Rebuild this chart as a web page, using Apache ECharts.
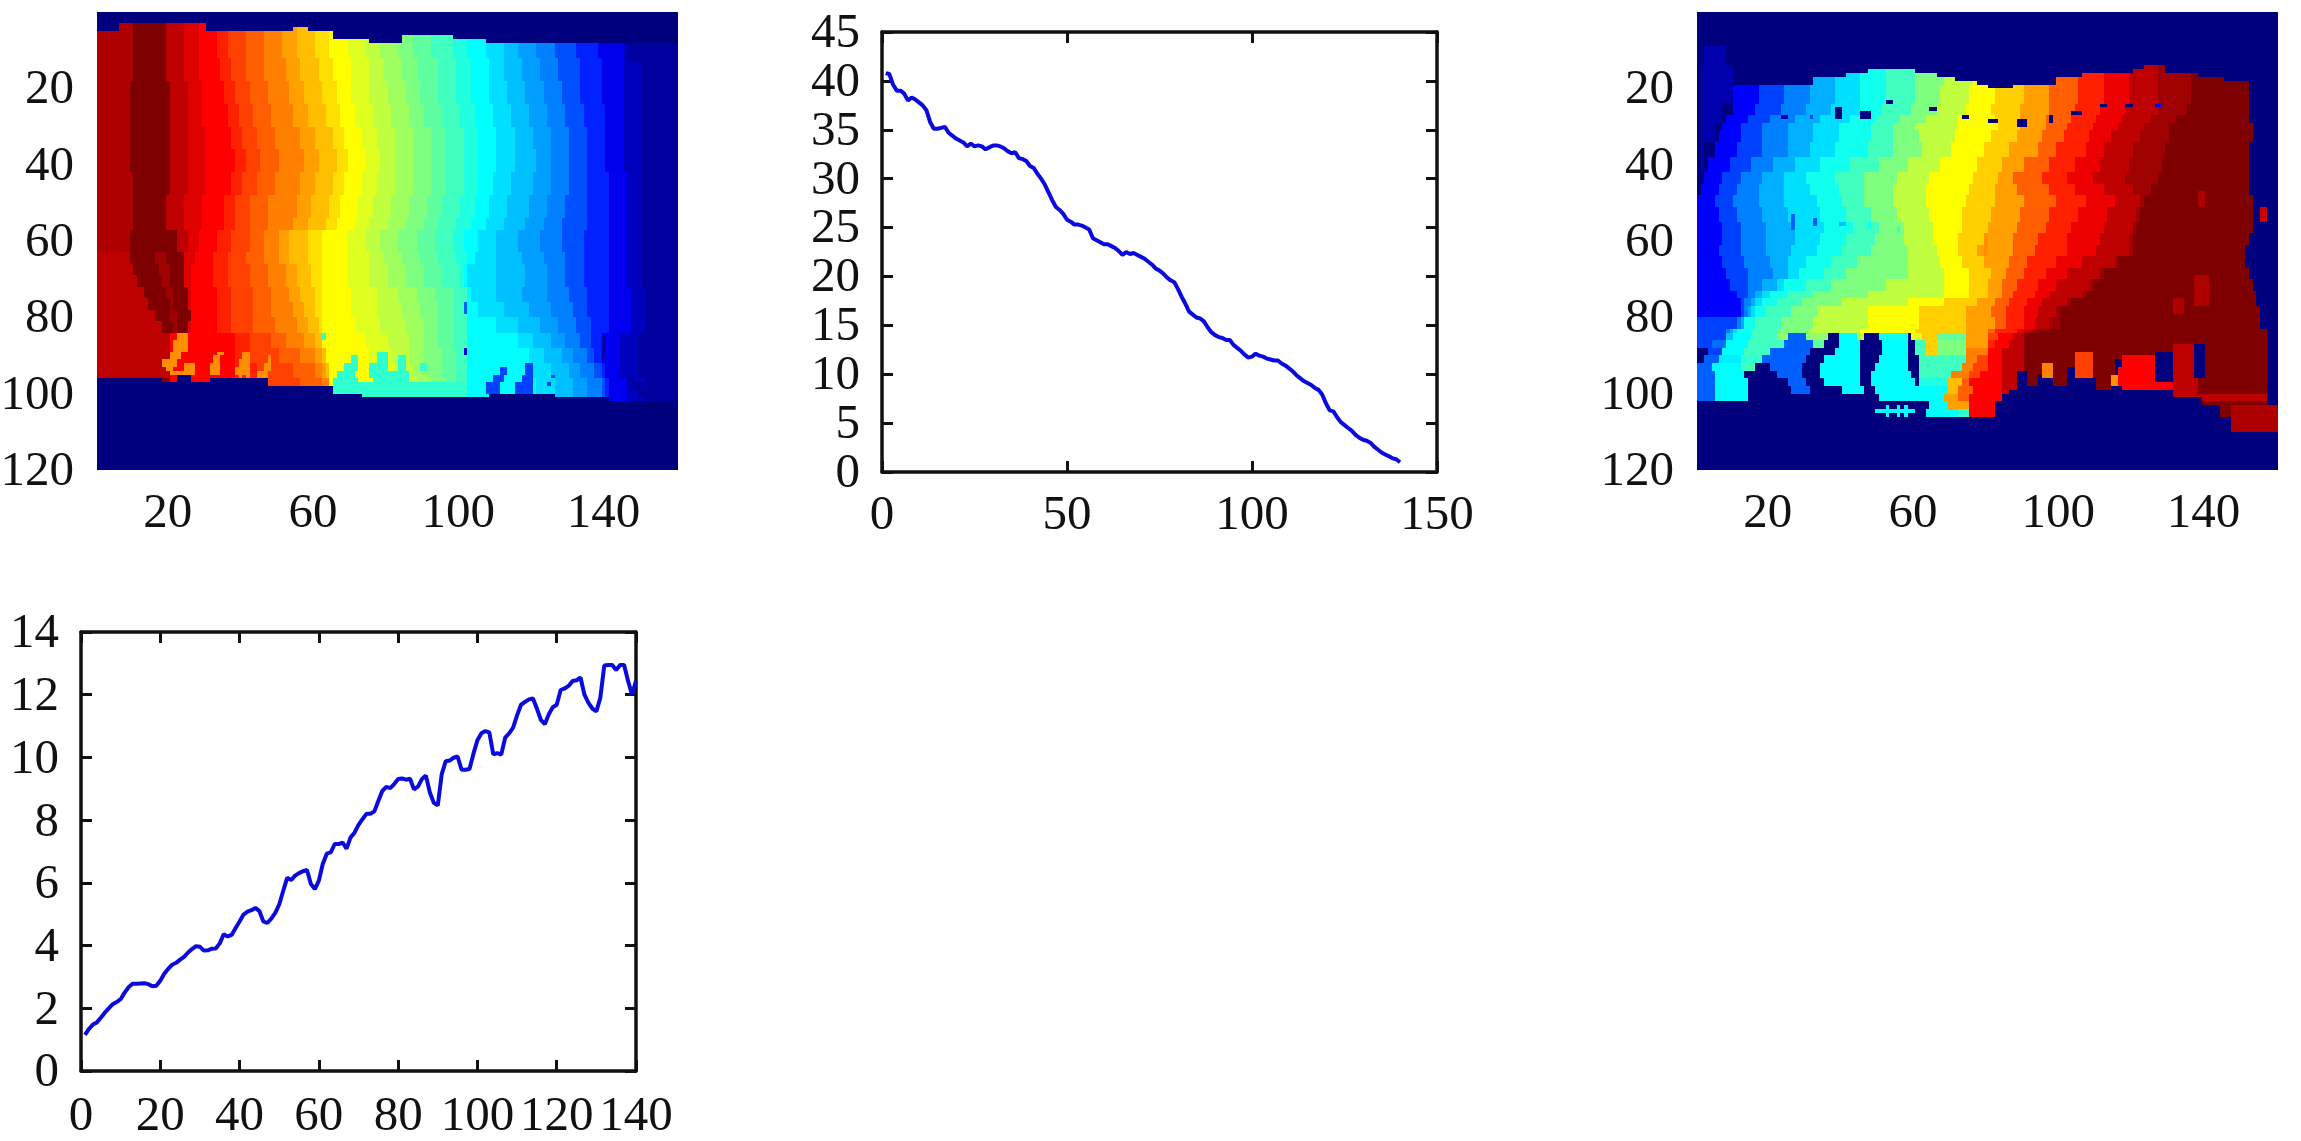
<!DOCTYPE html>
<html>
<head>
<meta charset="utf-8">
<title>Depth maps and profiles</title>
<script src="https://cdn.jsdelivr.net/npm/echarts@6/dist/echarts.min.js"></script>
<style>
    html, body { margin: 0; background: #fff; }
    #chart { width: 2301px; height: 1141px; }
</style>
</head>
<body>
<div id="chart"></div>
<script>
// 曲线数据 (x = 1..140)
const fallingValues = [
    40.8, 40.7, 39.6, 39.0, 39.0, 38.7, 38.0, 38.3, 38.1, 37.8, 37.5, 37.0, 35.8, 35.1, 35.1, 35.2, 35.3, 34.7, 34.4, 34.1,
    33.9, 33.7, 33.3, 33.6, 33.3, 33.4, 33.3, 33.0, 33.2, 33.4, 33.4, 33.3, 33.1, 32.8, 32.6, 32.7, 32.1, 32.0, 31.8, 31.3,
    31.1, 30.5, 30.0, 29.4, 28.6, 27.8, 27.1, 26.8, 26.4, 25.8, 25.6, 25.3, 25.3, 25.2, 25.0, 24.8, 23.9, 23.7, 23.5, 23.3,
    23.3, 23.1, 22.9, 22.6, 22.2, 22.5, 22.3, 22.4, 22.2, 22.0, 21.8, 21.5, 21.2, 20.8, 20.6, 20.3, 19.9, 19.6, 19.4, 18.7,
    17.9, 17.2, 16.4, 16.1, 15.8, 15.7, 15.4, 14.8, 14.3, 14.0, 13.8, 13.7, 13.5, 13.5, 13.0, 12.7, 12.4, 12.0, 11.7, 11.8,
    12.1, 11.9, 11.8, 11.6, 11.5, 11.4, 11.4, 11.1, 10.9, 10.6, 10.3, 9.9, 9.6, 9.3, 9.1, 8.9, 8.6, 8.4, 7.9, 7.0,
    6.3, 6.2, 5.6, 5.1, 4.8, 4.5, 4.2, 3.8, 3.5, 3.3, 3.2, 3.0, 2.6, 2.3, 2.0, 1.8, 1.6, 1.4, 1.3, 1.0
];
const risingValues = [
    1.15, 1.34, 1.48, 1.55, 1.7, 1.86, 2.0, 2.13, 2.2, 2.29, 2.5, 2.67, 2.78, 2.78, 2.79, 2.8, 2.77, 2.7, 2.72, 2.88,
    3.1, 3.26, 3.39, 3.45, 3.55, 3.64, 3.78, 3.89, 3.98, 3.96, 3.84, 3.85, 3.9, 3.91, 4.07, 4.36, 4.29, 4.34, 4.56, 4.77,
    4.99, 5.08, 5.13, 5.2, 5.1, 4.77, 4.72, 4.86, 5.04, 5.31, 5.74, 6.16, 6.09, 6.23, 6.31, 6.37, 6.41, 5.96, 5.8, 6.07,
    6.61, 6.93, 6.97, 7.24, 7.24, 7.28, 7.09, 7.45, 7.6, 7.85, 8.03, 8.2, 8.2, 8.28, 8.61, 8.93, 9.06, 9.02, 9.15, 9.31,
    9.33, 9.29, 9.32, 8.98, 9.07, 9.31, 9.42, 8.88, 8.55, 8.47, 9.47, 9.88, 9.9, 9.99, 10.03, 9.61, 9.61, 9.63, 10.12, 10.55,
    10.77, 10.84, 10.8, 10.1, 10.14, 10.09, 10.63, 10.77, 10.95, 11.34, 11.68, 11.77, 11.85, 11.88, 11.56, 11.2, 11.06, 11.38, 11.6, 11.68,
    12.15, 12.2, 12.28, 12.44, 12.46, 12.55, 12.0, 11.74, 11.56, 11.47, 11.9, 12.93, 12.95, 12.95, 12.79, 12.95, 12.95, 12.44, 12.0, 12.44
];

// 左图: 每行的色带边界 [起始行, 左, e1..e29, 右], 值取自 heat1Levels
const heat1Levels = [61, 64, 60, 58, 56, 54, 52, 50, 48, 46, 44, 42, 40, 38, 36, 34, 32, 30, 28, 26, 24, 22, 20, 18, 16, 13, 10, 7, 4, 2];
const heat1Bands = [
    [0, 0, 10, 19, 24, 28, 33, 36, 41, 46, 51, 55, 60, 64, 69, 74, 78, 83, 87, 92, 98, 102, 107, 112, 116, 121, 126, 132, 138, 145, 150, 160],
    [12, 0, 10, 19, 24, 28, 34, 37, 41, 46, 52, 56, 61, 65, 70, 75, 79, 84, 88, 94, 99, 103, 108, 112, 117, 122, 127, 133, 139, 145, 150, 160],
    [18, 0, 9, 20, 25, 29, 35, 38, 42, 47, 53, 57, 62, 66, 70, 75, 80, 85, 89, 94, 99, 103, 108, 113, 118, 123, 128, 133, 139, 145, 150, 160],
    [24, 0, 9, 20, 25, 29, 36, 39, 43, 48, 54, 58, 63, 67, 71, 76, 81, 86, 90, 95, 100, 104, 109, 114, 119, 124, 129, 134, 140, 145, 150, 160],
    [30, 0, 9, 20, 25, 30, 37, 40, 44, 49, 56, 60, 65, 68, 73, 77, 82, 87, 92, 96, 101, 105, 110, 115, 120, 125, 130, 135, 140, 145, 150, 160],
    [36, 0, 9, 20, 25, 30, 38, 41, 45, 50, 57, 61, 66, 69, 74, 78, 82, 87, 92, 96, 101, 105, 110, 115, 121, 125, 130, 135, 140, 145, 150, 160],
    [42, 0, 10, 20, 25, 30, 37, 40, 44, 49, 56, 60, 65, 68, 73, 77, 82, 87, 92, 96, 101, 105, 109, 114, 120, 125, 130, 135, 141, 146, 150, 160],
    [48, 0, 10, 19, 24, 29, 35, 38, 42, 47, 55, 59, 64, 67, 72, 76, 81, 86, 91, 95, 100, 104, 108, 113, 119, 124, 129, 135, 141, 146, 150, 160],
    [54, 0, 10, 19, 24, 29, 35, 38, 42, 47, 54, 58, 63, 66, 71, 75, 80, 85, 90, 94, 99, 103, 107, 112, 118, 123, 128, 135, 141, 146, 150, 160],
    [57, 0, 9, 22, 25, 28, 33, 37, 42, 46, 50, 53, 58, 62, 69, 74, 78, 83, 88, 93, 98, 101, 105, 110, 116, 122, 128, 134, 141, 146, 150, 160],
    [63, 0, 6, 20, 24, 27, 32, 36, 41, 46, 50, 53, 58, 62, 69, 75, 79, 84, 89, 94, 99, 102, 104, 110, 117, 123, 129, 134, 141, 146, 150, 160],
    [66, 0, 6, 20, 23, 26, 32, 36, 42, 47, 52, 55, 59, 62, 69, 75, 80, 85, 90, 95, 100, 101, 102, 110, 118, 124, 129, 134, 141, 146, 150, 160],
    [72, 0, 6, 20, 23, 26, 33, 37, 43, 48, 53, 56, 60, 62, 70, 77, 83, 88, 93, 98, 102, 102, 103, 110, 117, 124, 130, 135, 141, 147, 151, 160],
    [76, 0, 6, 20, 23, 26, 33, 37, 43, 48, 54, 57, 60, 62, 70, 77, 84, 89, 94, 98, 102, 102, 105, 112, 119, 125, 131, 135, 141, 147, 151, 160],
    [80, 0, 6, 20, 23, 26, 33, 37, 43, 49, 55, 58, 61, 62, 71, 78, 85, 90, 94, 98, 102, 102, 110, 116, 122, 127, 132, 136, 141, 147, 151, 160],
    [84, 0, 6, 20, 20, 20, 38, 42, 48, 52, 57, 60, 62, 62, 74, 80, 86, 90, 94, 98, 102, 102, 116, 120, 125, 129, 133, 136, 139, 144, 149, 160],
    [88, 0, 6, 20, 20, 20, 38, 42, 50, 56, 60, 62, 63, 63, 75, 81, 86, 90, 95, 99, 102, 102, 119, 123, 128, 131, 135, 137, 139, 144, 149, 160],
    [92, 0, 6, 20, 20, 20, 38, 44, 54, 60, 62, 63, 64, 64, 76, 82, 87, 91, 95, 99, 102, 102, 120, 125, 130, 133, 137, 139, 140, 144, 149, 160],
    [96, 0, 6, 20, 20, 20, 38, 46, 56, 62, 64, 64, 64, 64, 78, 83, 88, 92, 96, 99, 102, 102, 121, 126, 131, 135, 139, 140, 141, 146, 151, 160]
];
// [起始列, 结束列, 行]
const heat1Top = [[0, 6, 5], [6, 30, 3], [30, 54, 5], [54, 58, 4], [58, 65, 5], [65, 75, 7], [75, 84, 8], [84, 98, 6], [98, 107, 7], [107, 160, 8]];
const heat1Bottom = [
    [0, 18, 96], [18, 22, 97], [22, 26, 95], [26, 31, 97], [31, 47, 96], [47, 65, 98], [65, 73, 100], [73, 108, 101],
    [108, 126, 100], [126, 141, 101], [141, 160, 102]
];
// [起始行, 结束行, 起始列, 结束列, 值]
const heat1Patches = [
    [8, 13, 146, 160, 2],
    [63, 66, 0, 9, 60], [63, 66, 9, 16, 64], [63, 66, 16, 19, 62], [63, 66, 19, 24, 64],
    [66, 69, 0, 10, 60], [66, 69, 10, 17, 64], [66, 69, 17, 20, 62], [66, 69, 20, 24, 64],
    [69, 72, 0, 11, 60], [69, 72, 11, 18, 64], [69, 72, 18, 20, 62], [69, 72, 20, 24, 64],
    [72, 75, 0, 13, 60], [72, 75, 13, 19, 64], [72, 75, 19, 21, 62], [72, 75, 21, 25, 64],
    [75, 78, 0, 14, 60], [75, 78, 14, 20, 64], [75, 78, 20, 21, 62], [75, 78, 21, 25, 64],
    [78, 81, 0, 16, 60], [78, 81, 16, 20, 64], [78, 81, 20, 22, 62], [78, 81, 22, 26, 64],
    [81, 84, 0, 18, 60], [81, 84, 18, 21, 64], [81, 84, 21, 22, 62], [81, 84, 22, 25, 64],
    [84, 96, 0, 20, 60],
    [84, 86, 22, 25, 47], [86, 89, 21, 25, 47], [89, 91, 20, 23, 47], [91, 93, 18, 22, 47], [93, 94, 19, 21, 47],
    [92, 95, 24, 27, 47], [94, 95, 20, 27, 47],
    [89, 90, 33, 35, 47], [90, 92, 32, 34, 47], [92, 95, 31, 34, 47],
    [89, 91, 40, 42, 47], [91, 93, 39, 42, 47], [93, 95, 38, 42, 47], [95, 96, 39, 40, 47], [95, 96, 41, 42, 47],
    [90, 92, 47, 48, 47], [92, 94, 46, 48, 47], [94, 96, 44, 47, 47],
    [97, 100, 65, 73, 27], [97, 101, 73, 80, 27], [96, 97, 65, 72, 27], [96, 97, 76, 80, 27], [94, 96, 66, 71, 27], [92, 94, 68, 72, 27], [90, 92, 70, 72, 27],
    [89, 92, 77, 80, 27], [92, 96, 75, 80, 27], [94, 97, 80, 86, 27], [90, 94, 83, 85, 27],
    [97, 101, 80, 102, 27], [92, 94, 89, 91, 27],
    [93, 95, 111, 113, 12], [95, 97, 109, 112, 12], [97, 100, 107, 111, 12],
    [92, 95, 118, 120, 12], [95, 97, 117, 120, 12], [97, 100, 115, 120, 12],
    [95, 96, 125, 126, 12], [97, 98, 124, 125, 12], [76, 79, 101, 102, 14], [88, 90, 101, 102, 6], [85, 91, 139, 140, 3],
    [84, 86, 62, 63, 27],
    [95, 97, 146, 148, 2], [97, 99, 147, 150, 2], [99, 101, 149, 152, 2],
    [93, 95, 153, 155, 2], [95, 98, 151, 153, 2], [98, 100, 150, 152, 2]
];

// 右图: [起始行, 左, e1..e17, 右]
const heat2Levels = [8, 12, 16, 19, 22, 25, 28, 32, 36, 40, 43, 46, 50, 54, 57, 60, 62, 64];
const heat2Bands = [
    [14, 10, 17, 25, 32, 38, 45, 52, 60, 68, 76, 82, 90, 97, 105, 112, 119, 127, 136, 152],
    [19, 10, 17, 24, 31, 38, 45, 52, 60, 67, 75, 82, 90, 97, 105, 112, 119, 127, 136, 152],
    [24, 10, 16, 23, 30, 37, 45, 51, 59, 66, 74, 81, 89, 97, 104, 111, 118, 127, 135, 152],
    [27, 8, 14, 20, 27, 34, 42, 49, 56, 63, 72, 82, 89, 96, 103, 110, 117, 125, 132, 152],
    [29, 7, 12, 18, 25, 32, 39, 48, 54, 60, 72, 83, 89, 96, 102, 109, 116, 123, 130, 153],
    [31, 6, 12, 18, 25, 32, 39, 48, 54, 61, 71, 81, 88, 95, 101, 108, 114, 122, 130, 153],
    [34, 5, 11, 18, 25, 31, 38, 47, 54, 62, 70, 79, 86, 94, 99, 107, 112, 120, 129, 152],
    [38, 3, 9, 15, 21, 27, 34, 42, 50, 58, 67, 77, 84, 90, 97, 104, 111, 119, 128, 152],
    [42, 2, 7, 12, 18, 24, 30, 38, 46, 55, 64, 76, 83, 87, 95, 102, 109, 118, 127, 152],
    [45, 1, 6, 11, 17, 24, 31, 39, 46, 54, 63, 75, 82, 88, 97, 104, 112, 120, 125, 152],
    [48, 0, 5, 10, 17, 24, 33, 40, 46, 54, 63, 74, 82, 90, 99, 107, 115, 122, 123, 153],
    [51, 0, 6, 11, 18, 25, 34, 41, 48, 55, 64, 73, 81, 89, 97, 105, 113, 121, 122, 153],
    [55, 0, 7, 12, 19, 27, 35, 43, 50, 57, 65, 73, 80, 88, 96, 103, 112, 120, 121, 153],
    [58, 0, 7, 12, 19, 27, 34, 41, 49, 57, 65, 72, 79, 87, 94, 102, 111, 119, 120, 152],
    [61, 0, 6, 12, 19, 26, 33, 40, 48, 58, 66, 72, 77, 87, 93, 102, 110, 119, 120, 151],
    [64, 0, 7, 13, 20, 25, 30, 37, 44, 58, 67, 73, 79, 86, 91, 99, 106, 115, 116, 151],
    [67, 0, 8, 14, 21, 25, 28, 35, 41, 58, 68, 75, 81, 85, 90, 96, 102, 111, 112, 152],
    [70, 0, 9, 14, 18, 22, 24, 30, 37, 52, 68, 75, 80, 84, 88, 94, 99, 108, 109, 153],
    [73, 0, 11, 14, 16, 18, 20, 25, 32, 47, 68, 75, 80, 84, 87, 93, 97, 106, 107, 154],
    [75, 0, 12, 13, 15, 16, 18, 22, 29, 40, 58, 68, 77, 82, 86, 91, 95, 102, 103, 154],
    [77, 0, 12, 13, 14, 15, 16, 19, 26, 33, 47, 61, 74, 81, 85, 90, 94, 99, 100, 155],
    [80, 0, 0, 11, 12, 13, 13, 16, 23, 32, 47, 61, 74, 82, 85, 90, 93, 97, 100, 155],
    [83, 0, 0, 8, 9, 10, 11, 15, 22, 31, 45, 60, 74, 80, 82, 88, 90, 92, 94, 157]
];
// 下部火焰区: [起始行, 结束行, 列, 值, 列, 值, ..., 结束列]
const heat2Runs = [
    [84, 86, 0, 12, 8, 20, 10, 24, 15, 28, 22, 33, 25, 14, 30, 33, 36, 0, 39, 24, 44, 36, 46, 0, 50, 25, 58, 0, 59, 38, 62, 43, 66, 30, 74, 46, 80, 52, 83, 56, 87, 60, 90, 64, 157],
    [86, 88, 0, 12, 4, 15, 8, 24, 14, 28, 24, 14, 32, 30, 35, 0, 39, 24, 45, 0, 51, 24, 58, 0, 60, 28, 63, 43, 66, 32, 74, 46, 80, 54, 82, 56, 86, 60, 90, 64, 157],
    [88, 90, 0, 0, 3, 12, 7, 24, 13, 28, 20, 14, 31, 0, 38, 24, 45, 0, 51, 24, 58, 0, 60, 28, 63, 43, 66, 32, 74, 48, 80, 56, 84, 60, 90, 64, 157],
    [90, 92, 0, 0, 2, 14, 6, 23, 12, 27, 18, 14, 30, 0, 35, 24, 45, 0, 50, 24, 58, 0, 61, 28, 74, 48, 77, 52, 80, 56, 84, 60, 90, 64, 157],
    [92, 94, 0, 14, 4, 24, 12, 28, 16, 0, 20, 14, 29, 0, 34, 24, 45, 0, 49, 24, 58, 0, 61, 28, 73, 48, 76, 52, 80, 56, 84, 60, 90, 64, 157],
    [94, 96, 0, 14, 5, 24, 13, 0, 22, 14, 29, 0, 34, 24, 45, 0, 48, 24, 59, 0, 61, 28, 70, 48, 75, 52, 78, 56, 84, 60, 90, 64, 157],
    [96, 98, 0, 14, 5, 24, 14, 0, 25, 14, 30, 0, 35, 24, 45, 0, 48, 24, 60, 0, 61, 26, 69, 44, 73, 50, 75, 56, 84, 60, 90, 64, 157],
    [98, 100, 0, 14, 5, 24, 14, 0, 26, 14, 31, 0, 40, 24, 46, 0, 49, 24, 69, 44, 72, 50, 76, 56, 84, 60, 90, 64, 157],
    [100, 102, 0, 14, 5, 24, 14, 0, 50, 24, 68, 46, 72, 50, 75, 56, 84, 60, 157],
    [102, 104, 0, 0, 64, 24, 69, 46, 75, 56, 84, 60, 90, 64, 157],
    [104, 106, 0, 0, 63, 24, 72, 27, 75, 56, 84, 60, 90, 64, 157]
];
const heat2Top = [
    [0, 32, 19], [32, 41, 17], [41, 47, 16], [47, 60, 15], [60, 66, 16], [66, 71, 17], [71, 77, 18], [77, 80, 19], [80, 87, 20], [87, 99, 19],
    [99, 106, 17], [106, 120, 16], [120, 123, 15], [123, 129, 14], [129, 138, 16], [138, 145, 17], [145, 160, 18]
];
const heat2Bottom = [
    [0, 82, 106], [82, 84, 102], [84, 86, 100], [86, 88, 99], [88, 91, 94], [91, 94, 98], [94, 98, 95], [98, 102, 98],
    [102, 107, 93], [107, 110, 96], [110, 114, 99], [114, 117, 96], [117, 121, 98], [121, 131, 99], [131, 139, 101],
    [139, 144, 103], [144, 147, 106], [147, 160, 110]
];
const heat2Patches = [
    [9, 14, 2, 8, 3], [14, 24, 1, 10, 3], [24, 29, 1, 7, 3], [29, 34, 1, 5, 3], [34, 42, 1, 2, 3],
    [25, 28, 38, 40, 0], [26, 28, 45, 48, 0], [23, 24, 52, 54, 0], [25, 26, 64, 66, 0], [27, 28, 73, 75, 0], [28, 29, 80, 83, 0],
    [28, 30, 88, 91, 0], [27, 29, 97, 98, 0], [26, 27, 103, 106, 0], [24, 25, 111, 113, 0], [24, 25, 118, 120, 0], [24, 25, 126, 128, 8],
    [27, 28, 23, 25, 4], [27, 28, 31, 32, 12],
    [53, 57, 26, 27, 14], [54, 56, 32, 33, 14], [55, 56, 39, 41, 20], [55, 57, 47, 48, 25], [56, 58, 55, 56, 28], [58, 64, 79, 80, 47],
    [47, 51, 138, 140, 61], [69, 77, 137, 141, 61], [75, 79, 131, 134, 61], [51, 55, 155, 157, 59],
    [89, 96, 104, 109, 52], [92, 96, 95, 98, 48], [91, 95, 115, 119, 0], [95, 98, 114, 116, 47],
    [90, 99, 117, 127, 56], [93, 98, 116, 118, 56], [97, 99, 127, 131, 56],
    [87, 101, 131, 138, 60], [89, 97, 126, 131, 0], [87, 96, 137, 140, 0],
    [103, 110, 147, 160, 61],
    [104, 105, 49, 60, 24], [103, 106, 52, 53, 24], [103, 106, 55, 56, 24], [103, 106, 57, 58, 24]
];

// 坐标轴刻度 [min, max, interval]
const fallingYTicks = [0, 45, 5];
const fallingXTicks = [0, 150, 50];
const risingYTicks = [0, 14, 2];
const risingXTicks = [0, 140, 20];

const COLS = 160;
const ROWS = 120;
const JET = ["#00007f", "#0000ff", "#007fff", "#00ffff", "#7fff7f", "#ffff00", "#ff7f00", "#ff0000", "#7f0000"];
const fontFamily = "Liberation Serif";
const labelStyle = { color: "#111", fontFamily, fontSize: 49 };

// 把色带、边界和小块拼成 [列, 行, 值]
function buildCells(levels, bands, runs, top, bottom, patches) {
    const grid = [];
    for (let r = 0; r < ROWS; r++) grid.push(new Array(COLS).fill(0));

    bands.forEach((band, i) => {
        const rowTo = i + 1 < bands.length ? bands[i + 1][0] : ROWS;
        for (let r = band[0]; r < rowTo; r++) {
            for (let k = 0; k < levels.length; k++) {
                for (let c = band[k + 1]; c < band[k + 2]; c++) grid[r][c] = levels[k];
            }
        }
    });

    runs.forEach((run) => {
        for (let r = run[0]; r < run[1]; r++) {
            grid[r].fill(0);
            for (let k = 2; k + 2 < run.length; k += 2) {
                for (let c = run[k]; c < run[k + 2]; c++) grid[r][c] = run[k + 1];
            }
        }
    });

    top.forEach(([c0, c1, row]) => {
        for (let c = c0; c < c1; c++) for (let r = 0; r < row; r++) grid[r][c] = 0;
    });
    bottom.forEach(([c0, c1, row]) => {
        for (let c = c0; c < c1; c++) for (let r = row; r < ROWS; r++) grid[r][c] = 0;
    });

    patches.forEach(([r0, r1, c0, c1, v]) => {
        for (let r = r0; r < r1; r++) for (let c = c0; c < c1; c++) grid[r][c] = v;
    });

    const cells = [];
    grid.forEach((row, r) => row.forEach((v, c) => cells.push([c, r, v])));
    return cells;
}

const heat1Cells = buildCells(heat1Levels, heat1Bands, [], heat1Top, heat1Bottom, heat1Patches);
const heat2Cells = buildCells(heat2Levels, heat2Bands, heat2Runs, heat2Top, heat2Bottom, heat2Patches);

const colLabels = Array.from({ length: COLS }, (_, i) => String(i + 1));
const rowLabels = Array.from({ length: ROWS }, (_, i) => String(i + 1));

// 左侧刻度字往下挪一点, 用 rich 的 padding
const shiftedLabel = (paddingTop) => ({
    formatter: "{a|{value}}",
    rich: { a: { ...labelStyle, padding: [paddingTop, 0, 0, 0] } },
});

const heatXAxis = (gridIndex) => ({
    type: "category",
    gridIndex,
    data: colLabels,
    axisLine: { show: false },
    axisTick: { show: false },
    splitLine: { show: false },
    axisLabel: { ...labelStyle, margin: 20, interval: (i) => (i + 1) % 40 === 20 },
});
const heatYAxis = (gridIndex) => ({
    type: "category",
    gridIndex,
    inverse: true,
    data: rowLabels,
    axisLine: { show: false },
    axisTick: { show: false },
    splitLine: { show: false },
    axisLabel: { ...labelStyle, margin: 23, ...shiftedLabel(8), interval: (i) => (i + 1) % 20 === 0 },
});

// 格子取整到像素, 相邻格之间不留缝
const renderCell = (params, api) => {
    const p = api.coord([api.value(0), api.value(1)]);
    const s = api.size([1, 1]);
    const x0 = Math.round(p[0] - s[0] / 2);
    const y0 = Math.round(p[1] - s[1] / 2);
    const x1 = Math.round(p[0] + s[0] / 2);
    const y1 = Math.round(p[1] + s[1] / 2);
    return {
        type: "rect",
        shape: { x: x0, y: y0, width: x1 - x0, height: y1 - y0 },
        style: { fill: api.visual("color") },
    };
};

const heatSeries = (xAxisIndex, yAxisIndex, cells) => ({
    type: "custom",
    xAxisIndex,
    yAxisIndex,
    data: cells,
    encode: { x: 0, y: 1 },
    renderItem: renderCell,
    progressive: 0,
    silent: true,
});

// 带框的数值轴, 上/右两根只画线和刻度
const lineAxis = (gridIndex, position, ticks, margin, paddingTop) => ({
    type: "value",
    gridIndex,
    position,
    min: ticks[0],
    max: ticks[1],
    interval: ticks[2],
    splitLine: { show: false },
    axisLine: { show: true, onZero: false, lineStyle: { color: "#111", width: 3.5 } },
    axisTick: { show: true, inside: true, length: 11, lineStyle: { color: "#111", width: 3 } },
    axisLabel: margin
        ? { ...labelStyle, margin, hideOverlap: false, showMinLabel: true, showMaxLabel: true, ...(paddingTop ? shiftedLabel(paddingTop) : {}) }
        : { show: false },
});

const lineSeries = (xAxisIndex, yAxisIndex, values) => ({
    type: "line",
    xAxisIndex,
    yAxisIndex,
    data: values.map((v, i) => [i + 1, v]),
    showSymbol: false,
    clip: false,
    lineStyle: { color: "#0a0adf", width: 4 },
});

const option = {
    animation: false,
    backgroundColor: "#fff",
    grid: [
        { left: 97, top: 12, width: 581, height: 458, outerBoundsMode: "none", show: true, backgroundColor: JET[0], borderWidth: 0 },
        { left: 882, top: 32, width: 555, height: 440, outerBoundsMode: "none" },
        { left: 1697, top: 12, width: 581, height: 458, outerBoundsMode: "none", show: true, backgroundColor: JET[0], borderWidth: 0 },
        { left: 81, top: 632, width: 555, height: 439, outerBoundsMode: "none" },
    ],
    xAxis: [
        heatXAxis(0),
        lineAxis(1, "bottom", fallingXTicks, 20),
        lineAxis(1, "top", fallingXTicks),
        heatXAxis(2),
        lineAxis(3, "bottom", risingXTicks, 22),
        lineAxis(3, "top", risingXTicks),
    ],
    yAxis: [
        heatYAxis(0),
        lineAxis(1, "left", fallingYTicks, 22, 4),
        lineAxis(1, "right", fallingYTicks),
        heatYAxis(2),
        lineAxis(3, "left", risingYTicks, 22, 5),
        lineAxis(3, "right", risingYTicks),
    ],
    visualMap: {
        show: false,
        seriesIndex: [0, 2],
        dimension: 2,
        min: 0,
        max: 64,
        inRange: { color: JET },
    },
    series: [
        heatSeries(0, 0, heat1Cells),
        lineSeries(1, 1, fallingValues),
        heatSeries(3, 3, heat2Cells),
        lineSeries(4, 4, risingValues),
    ],
};

const chart = echarts.init(document.getElementById("chart"), null, { renderer: "canvas" });
chart.setOption(option);
</script>
</body>
</html>
